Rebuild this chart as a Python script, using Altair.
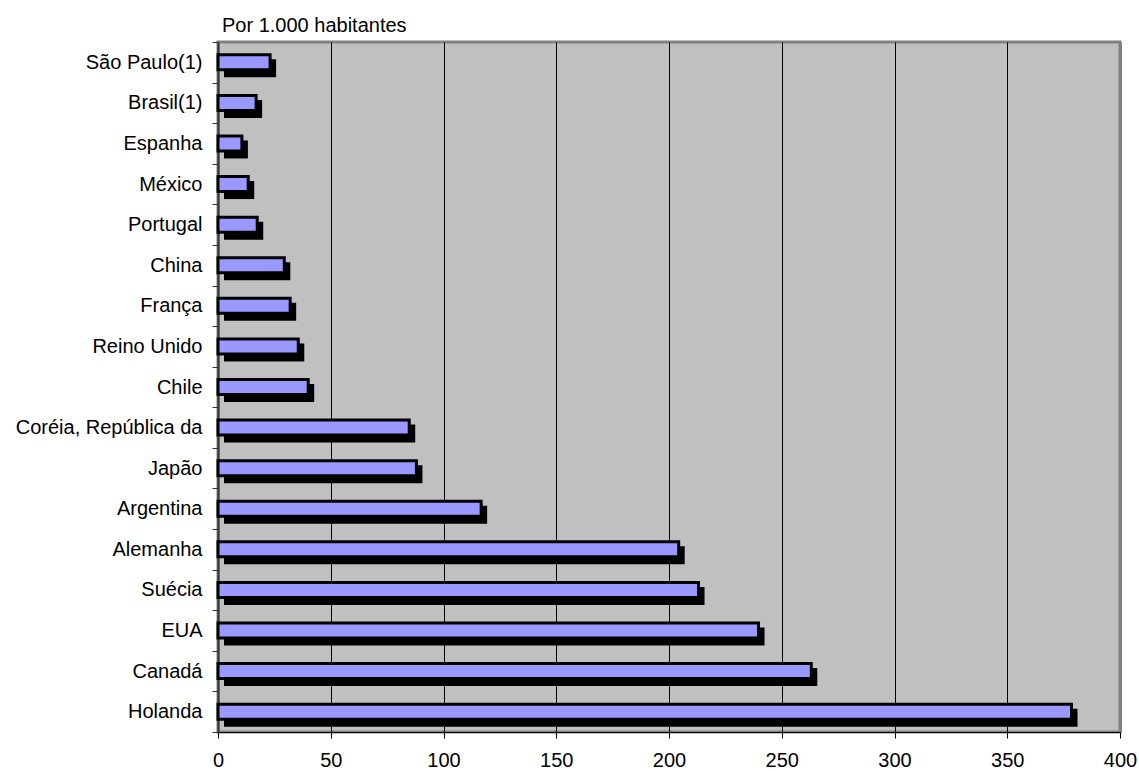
import altair as alt
import pandas as pd

countries = [
    "São Paulo(1)", "Brasil(1)", "Espanha", "México", "Portugal", "China",
    "França", "Reino Unido", "Chile", "Coréia, República da", "Japão\u00a0",
    "Argentina", "Alemanha", "Suécia\u00a0", "EUA", "Canadá", "Holanda",
]
values = [23.1, 16.9, 10.6, 13.4, 17.4, 29.4, 32.0, 35.6, 40.0, 84.8, 88.0,
          116.7, 204.3, 213.1, 239.7, 263.1, 378.5]
x_ticks = [0, 50, 100, 150, 200, 250, 300, 350, 400]
title_text = "Por 1.000 habitantes"

df = pd.DataFrame({"pais": countries, "valor": values})

FONT = "Liberation Sans"

y = alt.Y(
    "pais:N",
    sort=countries,
    title=None,
    scale=alt.Scale(paddingInner=0, paddingOuter=0),
    axis=alt.Axis(
        tickBand="extent",
        tickSize=6,
        tickColor="#333333",
        tickWidth=1,
        domainColor="#333333",
        domainWidth=2,
        labelFontSize=20,
        labelFont=FONT,
        labelColor="black",
        labelPadding=10,
        labelLimit=400,
        grid=False,
    ),
)
x = alt.X(
    "valor:Q",
    title=None,
    scale=alt.Scale(domain=[0, 400], nice=False, zero=True),
    axis=alt.Axis(
        values=x_ticks,
        grid=True,
        gridColor={"condition": {"test": "datum.value >= 400", "value": "#808080"}, "value": "black"},
        gridWidth={"condition": {"test": "datum.value >= 400", "value": 3}, "value": 1},
        gridOpacity=1,
        tickSize=6,
        tickColor="black",
        domainColor="black",
        domainWidth=1,
        labelFontSize=20,
        labelFont=FONT,
        labelColor="black",
        labelPadding=12,
        labelFlush=False,
    ),
)

shadow = alt.Chart(df).mark_bar(
    color="black", size=18, xOffset=6, yOffset=6
).encode(x=x, y=y)

bars = alt.Chart(df).mark_bar(
    fill="#9999FF", stroke="black", strokeWidth=3, size=15
).encode(x=x, y=y)

chart = (
    alt.layer(shadow, bars)
    .properties(
        width=902,
        height=690,
        autosize=alt.AutoSizeParams(type="none"),
        padding={"left": 218, "top": 42, "right": 19, "bottom": 39},
        title=alt.TitleParams(
            title_text,
            anchor="start",
            frame="group",
            font=FONT,
            fontSize=20,
            fontWeight="normal",
            color="black",
            baseline="alphabetic",
            offset=-20,
            dx=4,
        ),
        background="white",
    )
    .configure_view(fill="#C0C0C0", stroke="#808080", strokeWidth=3)
)

chart.save("out.html", embed_options={"renderer": "svg", "actions": False})
